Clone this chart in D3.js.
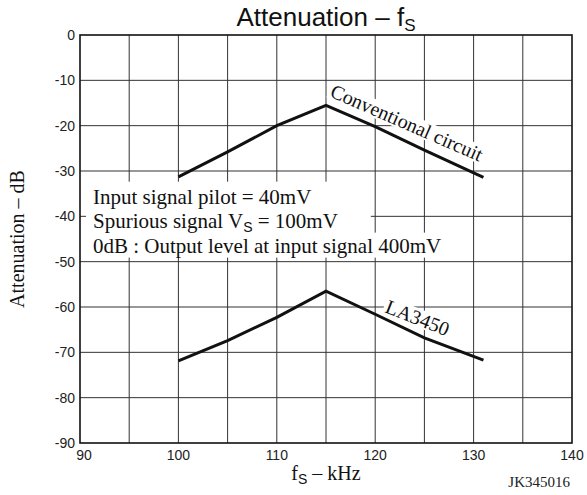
<!DOCTYPE html>
<html>
<head>
<meta charset="utf-8">
<script src="https://cdn.jsdelivr.net/npm/d3@7"></script>
<style>
  body { margin: 0; background: #fff; }
  svg { display: block; }
</style>
</head>
<body>
<div id="chart"></div>
<script>
// values
const freqs = [100, 105, 110, 115, 120, 125, 131]
const conventional = [-31.3, -25.8, -20.0, -15.5, -20.2, -25.4, -31.4]
const la3450 = [-71.9, -67.4, -62.3, -56.5, -61.6, -66.8, -71.7]

const xTicks = [90, 100, 110, 120, 130, 140]
const xGrid = [95, 100, 105, 110, 115, 120, 125, 130, 135]
const yTicks = [0, -10, -20, -30, -40, -50, -60, -70, -80, -90]

const curveLabels = [
  { text: 'Conventional circuit', f: 115.3, db: -13.5, angle: 23.6 },
  { text: 'LA3450', f: 120.9, db: -61.1, angle: 21.5 }
]
const noteLines = [
  ['Input signal pilot = 40mV'],
  ['Spurious signal V', 'S', ' = 100mV'],
  ['0dB : Output level at input signal 400mV']
]

const width = 587, height = 495
const margin = { top: 35, right: 15, bottom: 52, left: 80 }
const serif = '"Liberation Serif", "Times New Roman", serif'
const sans = '"Liberation Sans", Arial, sans-serif'

const svg = d3.select('#chart').append('svg')
  .attr('width', width)
  .attr('height', height)

const x = d3.scaleLinear().domain([90, 140]).range([margin.left, width - margin.right])
const y = d3.scaleLinear().domain([-90, 0]).range([height - margin.bottom, margin.top])

// grid
const grid = svg.append('g').attr('stroke', '#333').attr('stroke-width', 1)
grid.selectAll('line.v').data(xGrid).enter().append('line')
  .attr('x1', d => x(d)).attr('x2', d => x(d))
  .attr('y1', y(0)).attr('y2', y(-90))
grid.selectAll('line.h').data(yTicks.slice(1, -1)).enter().append('line')
  .attr('x1', x(90)).attr('x2', x(140))
  .attr('y1', d => y(d)).attr('y2', d => y(d))

// annotation block (white boxes hide the grid behind it)
const note = svg.append('g')
const noteText = note.selectAll('text').data(noteLines).enter().append('text')
  .attr('x', 93)
  .attr('y', (d, i) => y(-37.2) + i * 24.5)
  .attr('font-family', serif)
  .attr('font-size', 21)
  .attr('fill', '#111')
noteText.each(function (parts) {
  const t = d3.select(this)
  parts.forEach((p, j) => {
    const ts = t.append('tspan').text(p)
    if (j === 1) ts.attr('font-family', sans).attr('font-size', 14).attr('dy', 4)
    if (j === 2) ts.attr('dy', -4)
  })
})
const boxes = noteText.nodes().map(n => n.getBBox())
const top2 = boxes[0].y - 3
const right2 = Math.max(boxes[0].x + boxes[0].width, boxes[1].x + boxes[1].width) + 33
note.insert('rect', 'text')
  .attr('x', 86).attr('y', top2)
  .attr('width', right2 - 86).attr('height', boxes[1].y + boxes[1].height - top2)
  .attr('fill', '#fff')
note.insert('rect', 'text')
  .attr('x', 86).attr('y', boxes[2].y - 1)
  .attr('width', boxes[2].x + boxes[2].width + 4 - 86).attr('height', boxes[2].height + 1)
  .attr('fill', '#fff')

// frame
svg.append('rect')
  .attr('x', x(90)).attr('y', y(0))
  .attr('width', x(140) - x(90)).attr('height', y(-90) - y(0))
  .attr('fill', 'none').attr('stroke', '#111').attr('stroke-width', 1.6)

// curves
const line = d3.line().x(d => x(d[0])).y(d => y(d[1]))
;[conventional, la3450].forEach(series => {
  svg.append('path')
    .datum(freqs.map((f, i) => [f, series[i]]))
    .attr('d', line)
    .attr('fill', 'none')
    .attr('stroke', '#111')
    .attr('stroke-width', 3)
    .attr('stroke-linejoin', 'miter')
})

// curve labels
curveLabels.forEach(l => {
  const g = svg.append('g')
    .attr('transform', `translate(${x(l.f)},${y(l.db)}) rotate(${l.angle})`)
  const t = g.append('text')
    .text(l.text)
    .attr('font-family', serif)
    .attr('font-size', 20)
    .attr('fill', '#111')
  const b = t.node().getBBox()
  g.insert('rect', 'text')
    .attr('x', b.x - 2).attr('y', b.y + 2)
    .attr('width', b.width + 4).attr('height', b.height - 4)
    .attr('fill', '#fff')
})

// tick labels
svg.append('g').selectAll('text').data(yTicks).enter().append('text')
  .attr('x', x(90) - 5)
  .attr('y', d => y(d))
  .attr('dy', '0.35em')
  .attr('text-anchor', 'end')
  .attr('font-family', sans)
  .attr('font-size', 14)
  .attr('fill', '#222')
  .text(d => String(d))

svg.append('g').selectAll('text').data(xTicks).enter().append('text')
  .attr('x', (d, i) => x(d) + (i === 0 ? 4 : 0))
  .attr('y', y(-90) + 17)
  .attr('text-anchor', 'middle')
  .attr('font-family', sans)
  .attr('font-size', 14)
  .attr('fill', '#222')
  .text(d => String(d))

// title
const title = svg.append('text')
  .attr('x', (x(90) + x(140)) / 2)
  .attr('y', 26)
  .attr('text-anchor', 'middle')
  .attr('font-family', sans)
  .attr('font-size', 26)
  .attr('fill', '#111')
title.append('tspan').text('Attenuation – f')
title.append('tspan').text('S').attr('font-size', 17).attr('dy', 5)

// axis titles
const xl = svg.append('text')
  .attr('x', (x(90) + x(140)) / 2)
  .attr('y', 480)
  .attr('text-anchor', 'middle')
  .attr('font-family', serif)
  .attr('font-size', 20)
  .attr('fill', '#111')
xl.append('tspan').text('f')
xl.append('tspan').text('S').attr('font-family', sans).attr('font-size', 14).attr('dy', 4)
xl.append('tspan').text(' – kHz').attr('dy', -4)

svg.append('text')
  .attr('transform', `translate(24,${(y(0) + y(-90)) / 2}) rotate(-90)`)
  .attr('text-anchor', 'middle')
  .attr('font-family', serif)
  .attr('font-size', 20)
  .attr('fill', '#111')
  .text('Attenuation – dB')

svg.append('text')
  .attr('x', 570)
  .attr('y', 487)
  .attr('text-anchor', 'end')
  .attr('font-family', serif)
  .attr('font-size', 15)
  .attr('fill', '#222')
  .text('JK345016')
</script>
</body>
</html>
